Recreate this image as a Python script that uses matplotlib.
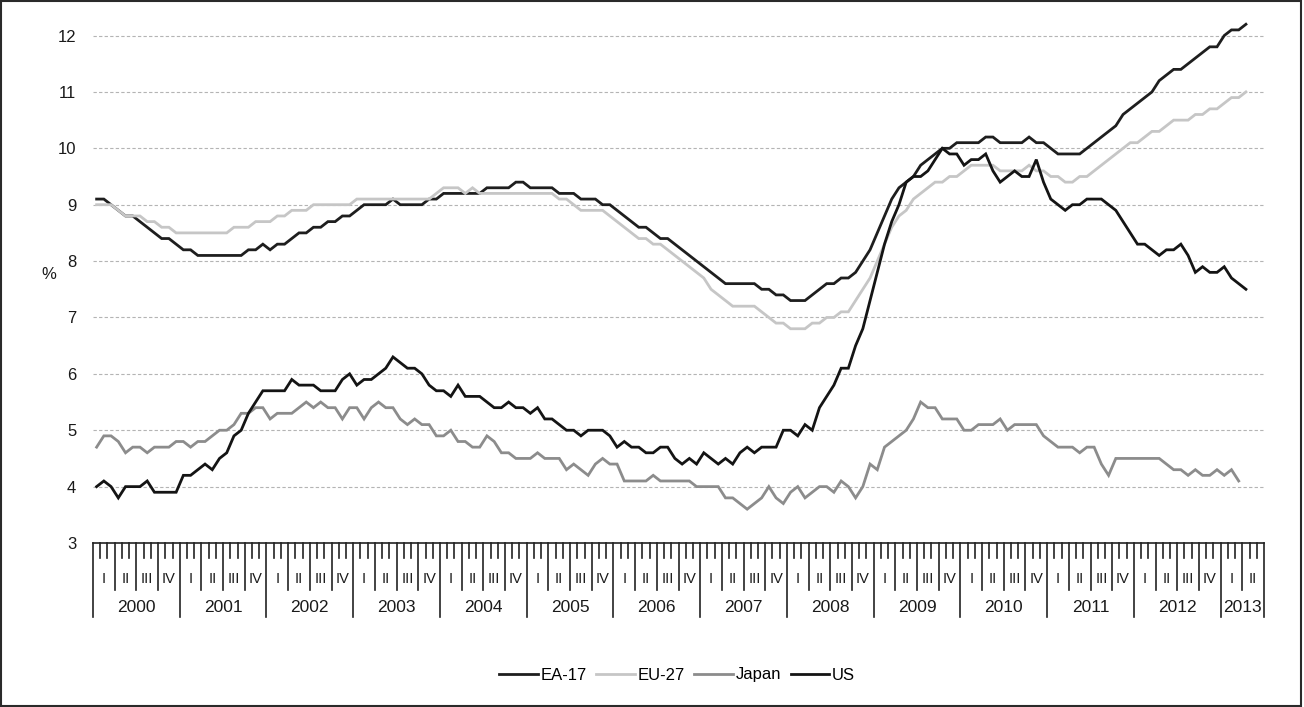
import numpy as np
import matplotlib.pyplot as plt
from matplotlib.transforms import blended_transform_factory
from matplotlib.patches import Rectangle

plt.rcParams['font.family'] = ['Liberation Sans', 'DejaVu Sans']

# monthly unemployment rates, Jan 2000 - Apr 2013 (%)
years = list(range(2000, 2014))
months_per_year = [12] * 13 + [6]   # 2013 axis runs to end of June
quarter_names = ['I', 'II', 'III', 'IV']

ea17 = [9.1, 9.1, 9.0, 8.9, 8.8, 8.8, 8.7, 8.6, 8.5, 8.4, 8.4, 8.3,
        8.2, 8.2, 8.1, 8.1, 8.1, 8.1, 8.1, 8.1, 8.1, 8.2, 8.2, 8.3,
        8.2, 8.3, 8.3, 8.4, 8.5, 8.5, 8.6, 8.6, 8.7, 8.7, 8.8, 8.8,
        8.9, 9.0, 9.0, 9.0, 9.0, 9.1, 9.0, 9.0, 9.0, 9.0, 9.1, 9.1,
        9.2, 9.2, 9.2, 9.2, 9.2, 9.2, 9.3, 9.3, 9.3, 9.3, 9.4, 9.4,
        9.3, 9.3, 9.3, 9.3, 9.2, 9.2, 9.2, 9.1, 9.1, 9.1, 9.0, 9.0,
        8.9, 8.8, 8.7, 8.6, 8.6, 8.5, 8.4, 8.4, 8.3, 8.2, 8.1, 8.0,
        7.9, 7.8, 7.7, 7.6, 7.6, 7.6, 7.6, 7.6, 7.5, 7.5, 7.4, 7.4,
        7.3, 7.3, 7.3, 7.4, 7.5, 7.6, 7.6, 7.7, 7.7, 7.8, 8.0, 8.2,
        8.5, 8.8, 9.1, 9.3, 9.4, 9.5, 9.7, 9.8, 9.9, 10.0, 10.0, 10.1,
        10.1, 10.1, 10.1, 10.2, 10.2, 10.1, 10.1, 10.1, 10.1, 10.2, 10.1, 10.1,
        10.0, 9.9, 9.9, 9.9, 9.9, 10.0, 10.1, 10.2, 10.3, 10.4, 10.6, 10.7,
        10.8, 10.9, 11.0, 11.2, 11.3, 11.4, 11.4, 11.5, 11.6, 11.7, 11.8, 11.8,
        12.0, 12.1, 12.1, 12.2]

eu27 = [9.0, 9.0, 9.0, 8.9, 8.8, 8.8, 8.8, 8.7, 8.7, 8.6, 8.6, 8.5,
        8.5, 8.5, 8.5, 8.5, 8.5, 8.5, 8.5, 8.6, 8.6, 8.6, 8.7, 8.7,
        8.7, 8.8, 8.8, 8.9, 8.9, 8.9, 9.0, 9.0, 9.0, 9.0, 9.0, 9.0,
        9.1, 9.1, 9.1, 9.1, 9.1, 9.1, 9.1, 9.1, 9.1, 9.1, 9.1, 9.2,
        9.3, 9.3, 9.3, 9.2, 9.3, 9.2, 9.2, 9.2, 9.2, 9.2, 9.2, 9.2,
        9.2, 9.2, 9.2, 9.2, 9.1, 9.1, 9.0, 8.9, 8.9, 8.9, 8.9, 8.8,
        8.7, 8.6, 8.5, 8.4, 8.4, 8.3, 8.3, 8.2, 8.1, 8.0, 7.9, 7.8,
        7.7, 7.5, 7.4, 7.3, 7.2, 7.2, 7.2, 7.2, 7.1, 7.0, 6.9, 6.9,
        6.8, 6.8, 6.8, 6.9, 6.9, 7.0, 7.0, 7.1, 7.1, 7.3, 7.5, 7.7,
        8.0, 8.3, 8.6, 8.8, 8.9, 9.1, 9.2, 9.3, 9.4, 9.4, 9.5, 9.5,
        9.6, 9.7, 9.7, 9.7, 9.7, 9.6, 9.6, 9.6, 9.6, 9.7, 9.6, 9.6,
        9.5, 9.5, 9.4, 9.4, 9.5, 9.5, 9.6, 9.7, 9.8, 9.9, 10.0, 10.1,
        10.1, 10.2, 10.3, 10.3, 10.4, 10.5, 10.5, 10.5, 10.6, 10.6, 10.7, 10.7,
        10.8, 10.9, 10.9, 11.0]

japan = [4.7, 4.9, 4.9, 4.8, 4.6, 4.7, 4.7, 4.6, 4.7, 4.7, 4.7, 4.8,
         4.8, 4.7, 4.8, 4.8, 4.9, 5.0, 5.0, 5.1, 5.3, 5.3, 5.4, 5.4,
         5.2, 5.3, 5.3, 5.3, 5.4, 5.5, 5.4, 5.5, 5.4, 5.4, 5.2, 5.4,
         5.4, 5.2, 5.4, 5.5, 5.4, 5.4, 5.2, 5.1, 5.2, 5.1, 5.1, 4.9,
         4.9, 5.0, 4.8, 4.8, 4.7, 4.7, 4.9, 4.8, 4.6, 4.6, 4.5, 4.5,
         4.5, 4.6, 4.5, 4.5, 4.5, 4.3, 4.4, 4.3, 4.2, 4.4, 4.5, 4.4,
         4.4, 4.1, 4.1, 4.1, 4.1, 4.2, 4.1, 4.1, 4.1, 4.1, 4.1, 4.0,
         4.0, 4.0, 4.0, 3.8, 3.8, 3.7, 3.6, 3.7, 3.8, 4.0, 3.8, 3.7,
         3.9, 4.0, 3.8, 3.9, 4.0, 4.0, 3.9, 4.1, 4.0, 3.8, 4.0, 4.4,
         4.3, 4.7, 4.8, 4.9, 5.0, 5.2, 5.5, 5.4, 5.4, 5.2, 5.2, 5.2,
         5.0, 5.0, 5.1, 5.1, 5.1, 5.2, 5.0, 5.1, 5.1, 5.1, 5.1, 4.9,
         4.8, 4.7, 4.7, 4.7, 4.6, 4.7, 4.7, 4.4, 4.2, 4.5, 4.5, 4.5,
         4.5, 4.5, 4.5, 4.5, 4.4, 4.3, 4.3, 4.2, 4.3, 4.2, 4.2, 4.3,
         4.2, 4.3, 4.1]

us = [4.0, 4.1, 4.0, 3.8, 4.0, 4.0, 4.0, 4.1, 3.9, 3.9, 3.9, 3.9,
      4.2, 4.2, 4.3, 4.4, 4.3, 4.5, 4.6, 4.9, 5.0, 5.3, 5.5, 5.7,
      5.7, 5.7, 5.7, 5.9, 5.8, 5.8, 5.8, 5.7, 5.7, 5.7, 5.9, 6.0,
      5.8, 5.9, 5.9, 6.0, 6.1, 6.3, 6.2, 6.1, 6.1, 6.0, 5.8, 5.7,
      5.7, 5.6, 5.8, 5.6, 5.6, 5.6, 5.5, 5.4, 5.4, 5.5, 5.4, 5.4,
      5.3, 5.4, 5.2, 5.2, 5.1, 5.0, 5.0, 4.9, 5.0, 5.0, 5.0, 4.9,
      4.7, 4.8, 4.7, 4.7, 4.6, 4.6, 4.7, 4.7, 4.5, 4.4, 4.5, 4.4,
      4.6, 4.5, 4.4, 4.5, 4.4, 4.6, 4.7, 4.6, 4.7, 4.7, 4.7, 5.0,
      5.0, 4.9, 5.1, 5.0, 5.4, 5.6, 5.8, 6.1, 6.1, 6.5, 6.8, 7.3,
      7.8, 8.3, 8.7, 9.0, 9.4, 9.5, 9.5, 9.6, 9.8, 10.0, 9.9, 9.9,
      9.7, 9.8, 9.8, 9.9, 9.6, 9.4, 9.5, 9.6, 9.5, 9.5, 9.8, 9.4,
      9.1, 9.0, 8.9, 9.0, 9.0, 9.1, 9.1, 9.1, 9.0, 8.9, 8.7, 8.5,
      8.3, 8.3, 8.2, 8.1, 8.2, 8.2, 8.3, 8.1, 7.8, 7.9, 7.8, 7.8,
      7.9, 7.7, 7.6, 7.5]

W, H = 1304, 707
fig = plt.figure(figsize=(W / 100, H / 100), dpi=100)
ax = fig.add_axes([93 / W, 1 - 543 / H, (1264 - 93) / W, (543 - 13) / H])

total_months = sum(months_per_year)
series = [(ea17, 'EA-17', '#1e1e1e'), (eu27, 'EU-27', '#c6c6c6'),
          (japan, 'Japan', '#8c8c8c'), (us, 'US', '#141414')]
for vals, name, col in series:
    x = np.arange(len(vals)) + 0.5
    ax.plot(x, vals, color=col, lw=2.0, label=name, solid_joinstyle='miter')

ax.set_xlim(0, total_months)
ax.set_ylim(3, 12.4)
ax.set_yticks(range(3, 13))
ax.tick_params(axis='y', length=0, pad=12, labelsize=12, labelcolor='#1a1a1a')
ax.set_xticks([])
for s in ['left', 'right', 'top']:
    ax.spines[s].set_visible(False)
ax.spines['bottom'].set_color('#222222')
ax.spines['bottom'].set_linewidth(1.2)
for v in range(4, 13):
    ax.axhline(v, color='#b4b4b4', lw=0.8, ls=(0, (3, 2)), zorder=0)

# multi-level category axis: months / quarters / years
tr = blended_transform_factory(ax.transData, fig.transFigure)
def fy(px):
    return 1 - px / H

year_edges = np.concatenate([[0], np.cumsum(months_per_year)])
for k in range(total_months + 1):
    if k in year_edges:
        bottom = 617
    elif k % 3 == 0:
        bottom = 590
    else:
        bottom = 558
    ax.plot([k, k], [fy(543), fy(bottom)], color='#222222', lw=1.2,
            transform=tr, clip_on=False)

for i, yr in enumerate(years):
    start = year_edges[i]
    n_q = months_per_year[i] // 3
    for q in range(n_q):
        ax.text(start + q * 3 + 1.5, fy(579), quarter_names[q], transform=tr,
                ha='center', va='center', fontsize=10.5, color='#1a1a1a')
    ax.text(start + months_per_year[i] / 2, fy(607), str(yr), transform=tr,
            ha='center', va='center', fontsize=12.5, color='#1a1a1a')

fig.text(49 / W, fy(274), '%', ha='center', va='center', fontsize=12,
         color='#1a1a1a')

fig.legend(loc='center', bbox_to_anchor=(677 / W, fy(675)), ncol=4,
           frameon=False, fontsize=12, handlelength=2.3,
           handletextpad=0.15, columnspacing=0.6)

fig.patches.append(Rectangle((0.001, 0.002), 0.997, 0.996, transform=fig.transFigure,
                             fill=False, lw=1.5, ec='#2a2a2a'))

fig.savefig('out.png', dpi=100)
